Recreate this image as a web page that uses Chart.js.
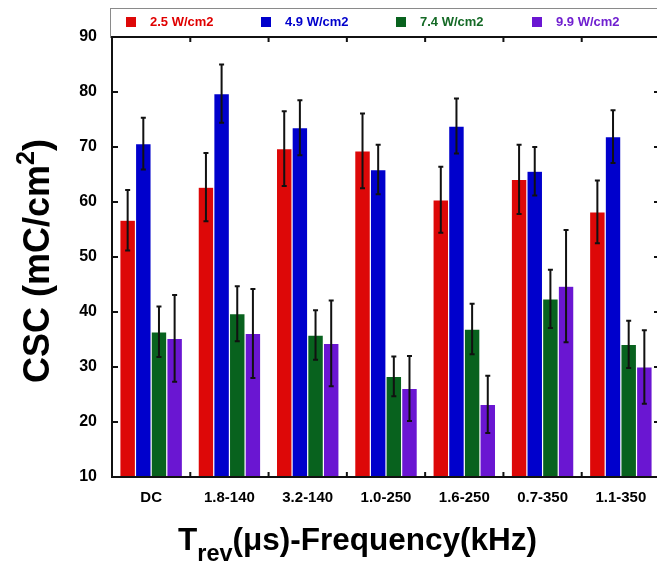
<!DOCTYPE html>
<html>
<head>
<meta charset="utf-8">
<script src="https://cdn.jsdelivr.net/npm/chart.js@4.4.1/dist/chart.umd.min.js"></script>
<style>
    html, body { margin: 0; padding: 0; background: #fff; overflow: hidden; }
    #wrap { width: 657px; height: 564px; overflow: hidden; }
    #box { width: 664px; height: 564px; }
</style>
</head>
<body>
<div id="wrap"><div id="box"><canvas id="cscChart"></canvas></div></div>
<script>
const categories = ['DC', '1.8-140', '3.2-140', '1.0-250', '1.6-250', '0.7-350', '1.1-350'];
const seriesLabels = ['2.5 W/cm2', '4.9 W/cm2', '7.4 W/cm2', '9.9 W/cm2'];

const csc25 = [56.7, 62.7, 69.7, 69.3, 60.4, 64.1, 58.2];
const err25 = [5.5, 6.2, 6.8, 6.8, 6.0, 6.3, 5.7];
const csc49 = [70.6, 79.7, 73.5, 65.9, 73.8, 65.6, 71.9];
const err49 = [4.7, 5.3, 5.0, 4.5, 5.0, 4.4, 4.8];
const csc74 = [36.4, 39.7, 35.8, 28.3, 36.9, 42.4, 34.1];
const err74 = [4.6, 5.0, 4.5, 3.6, 4.6, 5.3, 4.3];
const csc99 = [35.2, 36.1, 34.3, 26.1, 23.2, 44.7, 30.0];
const err99 = [7.9, 8.1, 7.8, 5.9, 5.2, 10.2, 6.7];

const yTicks = [10, 20, 30, 40, 50, 60, 70, 80, 90];

const barColors = ['#DD0808', '#0000CC', '#08621E', '#6A16D2'];
const textColors = ['#E00000', '#0000CC', '#156A26', '#7020D0'];

const PLOT_LEFT = 112;
const PLOT_TOP = 37;
const PLOT_BOTTOM = 477;

// error bars, drawn through the y scale
const errorBarPlugin = {
    id: 'errorBars',
    afterDatasetsDraw(chart) {
        const ctx = chart.ctx;
        const yScale = chart.scales.y;
        ctx.save();
        ctx.strokeStyle = '#111';
        ctx.lineWidth = 2;
        chart.data.datasets.forEach((ds, i) => {
            const meta = chart.getDatasetMeta(i);
            meta.data.forEach((bar, j) => {
                const v = ds.data[j];
                const e = ds.errors[j];
                const yTop = yScale.getPixelForValue(v + e);
                const yBot = yScale.getPixelForValue(v - e);
                ctx.beginPath();
                ctx.moveTo(bar.x, yTop);
                ctx.lineTo(bar.x, yBot);
                ctx.moveTo(bar.x - 2.5, yTop);
                ctx.lineTo(bar.x + 2.5, yTop);
                ctx.moveTo(bar.x - 2.5, yBot);
                ctx.lineTo(bar.x + 2.5, yBot);
                ctx.stroke();
            });
        });
        ctx.restore();
    }
};

// frame, inward ticks, legend box and axis titles
const decorPlugin = {
    id: 'decor',
    afterDraw(chart) {
        const ctx = chart.ctx;
        const area = chart.chartArea;
        const xScale = chart.scales.x;
        const yScale = chart.scales.y;
        ctx.save();

        // legend
        ctx.strokeStyle = '#8a8a8a';
        ctx.lineWidth = 1;
        ctx.strokeRect(110.5, 8.5, 560, area.top - 8);
        const legendX = [126, 261, 396, 532];
        ctx.font = 'bold 13px "Liberation Sans", Arial, sans-serif';
        ctx.textBaseline = 'middle';
        ctx.textAlign = 'left';
        chart.data.datasets.forEach((ds, i) => {
            ctx.fillStyle = barColors[i];
            ctx.fillRect(legendX[i], 17, 10, 10);
            ctx.fillStyle = textColors[i];
            ctx.fillText(ds.label, legendX[i] + 24, 22.5);
        });

        // frame
        ctx.strokeStyle = '#111';
        ctx.lineWidth = 2;
        ctx.strokeRect(area.left, area.top, area.right - area.left, area.bottom - area.top);

        // ticks
        ctx.beginPath();
        yTicks.forEach(t => {
            if (t === yTicks[0] || t === yTicks[yTicks.length - 1]) return;
            const y = yScale.getPixelForValue(t);
            ctx.moveTo(area.left, y);
            ctx.lineTo(area.left + 6, y);
            ctx.moveTo(area.right, y);
            ctx.lineTo(area.right - 6, y);
        });
        for (let k = 1; k < categories.length; k++) {
            const x = (xScale.getPixelForValue(k - 1) + xScale.getPixelForValue(k)) / 2;
            ctx.moveTo(x, area.top);
            ctx.lineTo(x, area.top + 5);
            ctx.moveTo(x, area.bottom);
            ctx.lineTo(x, area.bottom - 5);
        }
        ctx.stroke();

        // y title with superscript
        ctx.fillStyle = '#000';
        ctx.textBaseline = 'alphabetic';
        const mainFont = 'bold 36px "Liberation Sans", Arial, sans-serif';
        const supFont = 'bold 25px "Liberation Sans", Arial, sans-serif';
        ctx.font = mainFont;
        const w1 = ctx.measureText('CSC (mC/cm').width;
        const w3 = ctx.measureText(')').width;
        ctx.font = supFont;
        const w2 = ctx.measureText('2').width;
        const total = w1 + w2 + w3;
        ctx.translate(49, (area.top + area.bottom) / 2 + 4);
        ctx.rotate(-Math.PI / 2);
        let x0 = -total / 2;
        ctx.font = mainFont;
        ctx.fillText('CSC (mC/cm', x0, 0);
        ctx.font = supFont;
        ctx.fillText('2', x0 + w1, -15);
        ctx.font = mainFont;
        ctx.fillText(')', x0 + w1 + w2, 0);
        ctx.setTransform(1, 0, 0, 1, 0, 0);

        // x title with subscript
        const xMain = 'bold 31.5px "Liberation Sans", Arial, sans-serif';
        const xSub = 'bold 23.5px "Liberation Sans", Arial, sans-serif';
        let xx = 178;
        ctx.font = xMain;
        ctx.fillText('T', xx, 550);
        xx += ctx.measureText('T').width;
        ctx.font = xSub;
        ctx.fillText('rev', xx, 561);
        xx += ctx.measureText('rev').width;
        ctx.font = xMain;
        ctx.fillText('(\u03bcs)-Frequency(kHz)', xx, 550);

        ctx.restore();
    }
};

function makeDataset(i, values, errors) {
    return {
        label: seriesLabels[i],
        data: values,
        errors: errors,
        backgroundColor: barColors[i],
        borderColor: 'rgba(255,255,255,0.35)',
        borderWidth: 0.6,
        categoryPercentage: 0.8,
        barPercentage: 1.0
    };
}

function initChart() {
    const ctx = document.getElementById('cscChart').getContext('2d');
    new Chart(ctx, {
        type: 'bar',
        data: {
            labels: categories,
            datasets: [
                makeDataset(0, csc25, err25),
                makeDataset(1, csc49, err49),
                makeDataset(2, csc74, err74),
                makeDataset(3, csc99, err99)
            ]
        },
        options: {
            responsive: true,
            maintainAspectRatio: false,
            animation: false,
            layout: { padding: { top: PLOT_TOP, right: 4, left: 0, bottom: 0 } },
            plugins: {
                legend: { display: false },
                tooltip: { enabled: false }
            },
            scales: {
                x: {
                    grid: { display: false, drawTicks: false },
                    border: { display: false },
                    ticks: {
                        color: '#000',
                        padding: 12,
                        font: { family: '"Liberation Sans", Arial, sans-serif', size: 15, weight: 'bold' }
                    },
                    afterFit(scale) { scale.height = 564 - PLOT_BOTTOM; }
                },
                y: {
                    min: 10,
                    max: 90,
                    grid: { display: false, drawTicks: false },
                    border: { display: false },
                    ticks: {
                        stepSize: 10,
                        color: '#000',
                        padding: 15,
                        font: { family: '"Liberation Sans", Arial, sans-serif', size: 16, weight: 'bold' }
                    },
                    afterFit(scale) { scale.width = PLOT_LEFT; }
                }
            }
        },
        plugins: [errorBarPlugin, decorPlugin]
    });
}

document.addEventListener('DOMContentLoaded', initChart);
</script>
</body>
</html>
